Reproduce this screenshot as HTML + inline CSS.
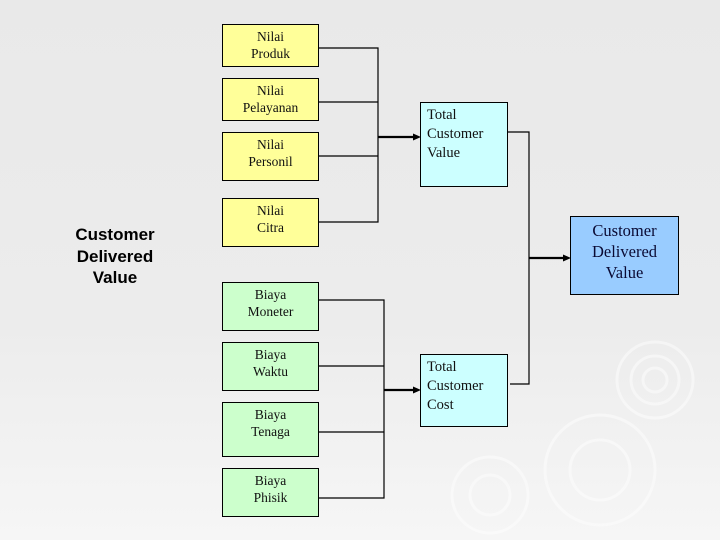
<!DOCTYPE html>
<html><head><meta charset="utf-8"><style>
html,body{margin:0;padding:0;overflow:hidden;width:720px;height:540px}
body{position:relative;background:linear-gradient(#e9e9e9 0%,#ececec 60%,#f6f6f6 100%);font-family:"Liberation Serif",serif}
.b{position:absolute;border:1px solid #000;box-sizing:border-box;font-size:13.5px;line-height:17px;color:#111}
.y{background:#ffff99;text-align:center;padding-top:3px}
.g{background:#ccffcc;text-align:center;padding-top:3px}
.c{background:#ccffff;padding:3px 0 0 6px;font-size:14.5px;line-height:19px}
.d{background:#99ccff;text-align:center;font-size:16.5px;line-height:21px;color:#0a0a33;padding-top:3px}
svg{position:absolute;left:0;top:0;display:block}
</style></head><body>
<svg width="720" height="540" viewBox="0 0 720 540">
<g fill="none" stroke="#fff" stroke-opacity=".45" stroke-width="3">
<circle cx="655" cy="380" r="12"/><circle cx="655" cy="380" r="24"/><circle cx="655" cy="380" r="38"/>
<circle cx="600" cy="470" r="30"/><circle cx="600" cy="470" r="55"/>
<circle cx="490" cy="495" r="20"/><circle cx="490" cy="495" r="38"/>
</g>
<g stroke="#000" stroke-width="1.2" fill="none">
<polyline points="318,48 378,48 378,222 318,222"/>
<line x1="318" y1="102" x2="378" y2="102"/>
<line x1="318" y1="156" x2="378" y2="156"/>
<polyline points="318,300 384,300 384,498 318,498"/>
<line x1="318" y1="366" x2="384" y2="366"/>
<line x1="318" y1="432" x2="384" y2="432"/>
<polyline points="504,132 529,132 529,384 510,384"/>
</g>
<g stroke="#000" stroke-width="2.2">
<line x1="378" y1="137" x2="415" y2="137"/>
<line x1="384" y1="390" x2="415" y2="390"/>
<line x1="529" y1="258" x2="566" y2="258"/>
</g>
<g fill="#000">
<polygon points="421,137 413,133.5 413,140.5"/>
<polygon points="421,390 413,386.5 413,393.5"/>
<polygon points="571,258 563,254.5 563,261.5"/>
</g>
</svg>
<div class="b y" style="left:222px;top:24px;width:97px;height:43px">Nilai<br>Produk</div>
<div class="b y" style="left:222px;top:78px;width:97px;height:43px">Nilai<br>Pelayanan</div>
<div class="b y" style="left:222px;top:132px;width:97px;height:49px">Nilai<br>Personil</div>
<div class="b y" style="left:222px;top:198px;width:97px;height:49px">Nilai<br>Citra</div>
<div class="b g" style="left:222px;top:282px;width:97px;height:49px">Biaya<br>Moneter</div>
<div class="b g" style="left:222px;top:342px;width:97px;height:49px">Biaya<br>Waktu</div>
<div class="b g" style="left:222px;top:402px;width:97px;height:55px">Biaya<br>Tenaga</div>
<div class="b g" style="left:222px;top:468px;width:97px;height:49px">Biaya<br>Phisik</div>
<div class="b c" style="left:420px;top:102px;width:88px;height:85px">Total<br>Customer<br>Value</div>
<div class="b c" style="left:420px;top:354px;width:88px;height:73px">Total<br>Customer<br>Cost</div>
<div class="b d" style="left:570px;top:216px;width:109px;height:79px">Customer<br>Delivered<br>Value</div>
<div style="position:absolute;left:50px;top:224px;width:130px;text-align:center;font:bold 17px/21.5px 'Liberation Sans',sans-serif;color:#000">Customer<br>Delivered<br>Value</div>
</body></html>
